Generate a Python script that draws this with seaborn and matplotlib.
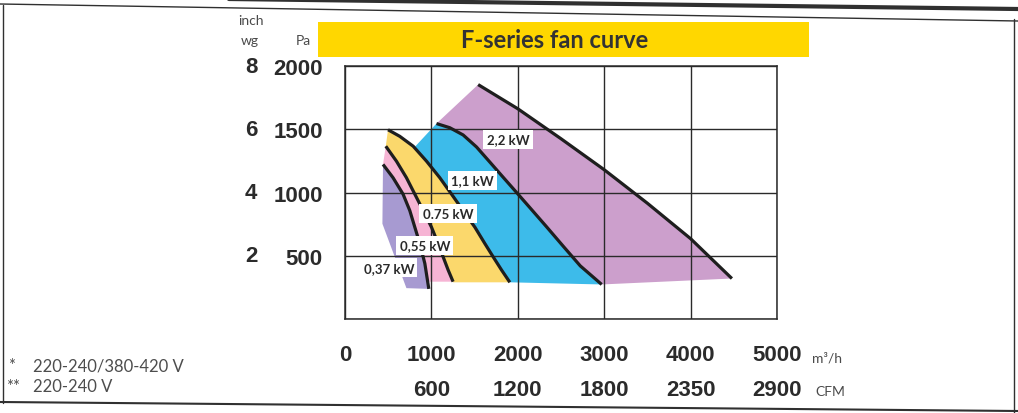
import numpy as np
import matplotlib
matplotlib.use("Agg")
import matplotlib.pyplot as plt
import matplotlib.transforms as mtransforms
from matplotlib.lines import Line2D
from matplotlib.patches import Rectangle
import seaborn as sns

# ---- motor curves: airflow (m3/h) against static pressure (Pa) ----
kw037_flow = [440, 556, 672, 750, 808, 866, 924, 970]
kw037_pa = [1222, 1117, 987, 857, 726, 596, 439, 238]

kw055_flow = [472, 595, 711, 808, 905, 1001, 1078, 1136, 1194, 1251]
kw055_pa = [1366, 1248, 1117, 987, 857, 726, 596, 491, 387, 295]

kw075_flow = [498, 634, 789, 943, 1097, 1233, 1367, 1503, 1619, 1715, 1812, 1908]
kw075_pa = [1496, 1444, 1366, 1248, 1117, 987, 857, 726, 596, 491, 387, 290]

kw11_flow = [1059, 1213, 1367, 1522, 1677, 1831, 1986, 2140, 2334, 2526, 2723, 2971]
kw11_pa = [1545, 1512, 1455, 1360, 1240, 1120, 1000, 880, 728, 575, 420, 273]

kw22_flow = [1541, 2000, 2500, 3000, 3500, 4000, 4478]
kw22_pa = [1853, 1662, 1425, 1180, 915, 635, 320]

# low-flow boundary of the smallest motor zone
kw037_edge_flow = [711, 433]
kw037_edge_pa = [244, 753]
# pressure on the 0.75 kW curve where the 1,1 kW zone starts
kw11_zone_top_pa = 1356

motor_labels = ["0,37 kW", "0,55 kW", "0.75 kW", "1,1 kW", "2,2 kW"]
label_flow = [507, 924, 1193, 1477, 1886]
label_pa = [406, 583, 831, 1097, 1422]
zone_colors = ["#a79ad1", "#f6b4d4", "#fbd86c", "#3dbbea", "#cc9fcc"]

flow_ticks = [0, 1000, 2000, 3000, 4000, 5000]
flow_labels = ["0", "1000", "2000", "3000", "4000", "5000"]
cfm_ticks = [1000, 2000, 3000, 4000, 5000]
cfm_labels = ["600", "1200", "1800", "2350", "2900"]
pa_ticks = [0, 500, 1000, 1500, 2000]
pa_labels = ["", "500", "1000", "1500", "2000"]
inch_ticks = [2, 4, 6, 8]
pa_per_inch = 249.09

footnotes = ["*", "220-240/380-420 V", "**", "220-240 V"]
title = "F-series fan curve"

sns.set_theme(style="white")
plt.rcParams["font.family"] = ["Liberation Sans", "DejaVu Sans"]

W, H = 1018, 414
fig = plt.figure(figsize=(W / 100, H / 100), dpi=100)
fig.patch.set_facecolor("white")


def fx(px):
    return px / W


def fy(py):
    return 1 - py / H


ax = fig.add_axes([fx(345), fy(320), fx(777) - fx(345), fy(67) - fy(320)])
ax.set_xlim(0, 5000)
ax.set_ylim(0, 2000)

ink = "#2a2a2a"


def upper_part(xs, ys, y_min):
    """Points of a curve above y_min, ending exactly at y_min."""
    xs = np.asarray(xs, float)
    ys = np.asarray(ys, float)
    keep = ys > y_min
    x_end = np.interp(y_min, ys[::-1], xs[::-1])
    return list(xs[keep]) + [x_end], list(ys[keep]) + [y_min]


def lower_part(xs, ys, y_max):
    """Points of a curve below y_max, starting exactly at y_max."""
    xs = np.asarray(xs, float)
    ys = np.asarray(ys, float)
    keep = ys < y_max
    x_start = np.interp(y_max, ys[::-1], xs[::-1])
    return [x_start] + list(xs[keep]), [y_max] + list(ys[keep])


# ---- coloured operating zones ----
zones = []
zones.append((kw037_flow + kw037_edge_flow, kw037_pa + kw037_edge_pa))
lx, ly = upper_part(kw037_flow, kw037_pa, kw055_pa[-1])
zones.append((kw055_flow + lx[::-1], kw055_pa + ly[::-1]))
lx, ly = upper_part(kw055_flow, kw055_pa, kw075_pa[-1])
zones.append((kw075_flow + lx[::-1], kw075_pa + ly[::-1]))
lx, ly = lower_part(kw075_flow, kw075_pa, kw11_zone_top_pa)
zones.append((kw11_flow + lx[::-1], kw11_pa + ly[::-1]))
zones.append((kw22_flow + kw11_flow[::-1], kw22_pa + kw11_pa[::-1]))

for (zx, zy), c in zip(zones, zone_colors):
    ax.fill(zx, zy, color=c, lw=0, zorder=1)

# ---- grid and frame ----
ax.set_xticks(flow_ticks)
ax.set_xticklabels(flow_labels)
ax.set_yticks(pa_ticks)
ax.set_yticklabels(pa_labels)
ax.grid(True, color=ink, lw=1.0, zorder=2)
ax.set_axisbelow(False)
for s in ax.spines.values():
    s.set_visible(True)
    s.set_color(ink)
    s.set_linewidth(1.1)
ax.tick_params(axis="both", direction="out", length=6, width=1.0, color=ink,
               labelsize=16, labelcolor="#2b2b2b")
ax.tick_params(axis="x", pad=12)
ax.tick_params(axis="y", pad=10)
for t in ax.get_xticklabels() + ax.get_yticklabels():
    t.set_fontweight("bold")

# ---- motor curves ----
for fl, pa in [(kw037_flow, kw037_pa), (kw055_flow, kw055_pa),
               (kw075_flow, kw075_pa), (kw11_flow, kw11_pa),
               (kw22_flow, kw22_pa)]:
    sns.lineplot(x=fl, y=pa, sort=False, estimator=None, color="#1e1e1e",
                 lw=2.3, ax=ax, zorder=4, solid_joinstyle="round",
                 solid_capstyle="butt")

for lab, x, y in zip(motor_labels, label_flow, label_pa):
    ax.text(x, y, lab, ha="center", va="center", fontsize=9.5,
            fontweight="bold", family=["Lato", "DejaVu Sans"], color="#2a2a2a",
            zorder=5, bbox=dict(facecolor="white", edgecolor="none", pad=2.5))

# ---- secondary unit labels ----
tr_inch = mtransforms.blended_transform_factory(fig.transFigure, ax.transData)
for v in inch_ticks:
    ax.text(fx(251), v * pa_per_inch, str(v), transform=tr_inch, ha="center",
            va="center", fontsize=16, fontweight="bold", color="#2b2b2b")

tr_cfm = mtransforms.blended_transform_factory(ax.transData, fig.transFigure)
for x, lab in zip(cfm_ticks, cfm_labels):
    ax.text(x, fy(391), lab, transform=tr_cfm, ha="center", va="center",
            fontsize=16, fontweight="bold", color="#2b2b2b", clip_on=False)

unit_font = dict(family=["Lato", "DejaVu Sans"], color="#4a4a4a", fontsize=10)
fig.text(fx(251), fy(21), "inch", ha="center", va="center", **unit_font)
fig.text(fx(250), fy(41), "wg", ha="center", va="center", **unit_font)
fig.text(fx(311), fy(41), "Pa", ha="right", va="center", **unit_font)
fig.text(fx(812), fy(359), "m\u00b3/h", ha="left", va="center", **unit_font)
fig.text(fx(815), fy(392), "CFM", ha="left", va="center", **unit_font)

# ---- title banner ----
fig.add_artist(Rectangle((fx(318), fy(58)), fx(809) - fx(318), fy(23) - fy(58),
                         transform=fig.transFigure, facecolor="#ffd700",
                         edgecolor="none", zorder=0))
fig.text(fx(555), fy(41), title, ha="center", va="center", fontsize=17,
         fontweight="bold", family=["Lato", "DejaVu Sans"], color="#333333")

# ---- footnotes ----
note_font = dict(family=["Lato", "DejaVu Sans"], color="#4d4d4d", fontsize=12,
                 fontweight="normal", va="center")
fig.text(fx(8), fy(366), footnotes[0], ha="left", **note_font)
fig.text(fx(33), fy(367), footnotes[1], ha="left", **note_font)
fig.text(fx(6), fy(387), footnotes[2], ha="left", **note_font)
fig.text(fx(33), fy(387), footnotes[3], ha="left", **note_font)

# ---- page border ----
def border(x0, y0, x1, y1, lw):
    fig.add_artist(Line2D([fx(x0), fx(x1)], [fy(y0), fy(y1)],
                          transform=fig.transFigure, color="#303030", lw=lw))


border(150, -1, 1018, 10, 3.0)
border(0, 5, 1018, 22, 1.0)
border(3, 6, 3, 404, 1.0)
border(1014, 20, 1014, 414, 1.0)
border(0, 403, 1018, 412, 1.5)

fig.savefig("out.png", dpi=100, facecolor="white")
